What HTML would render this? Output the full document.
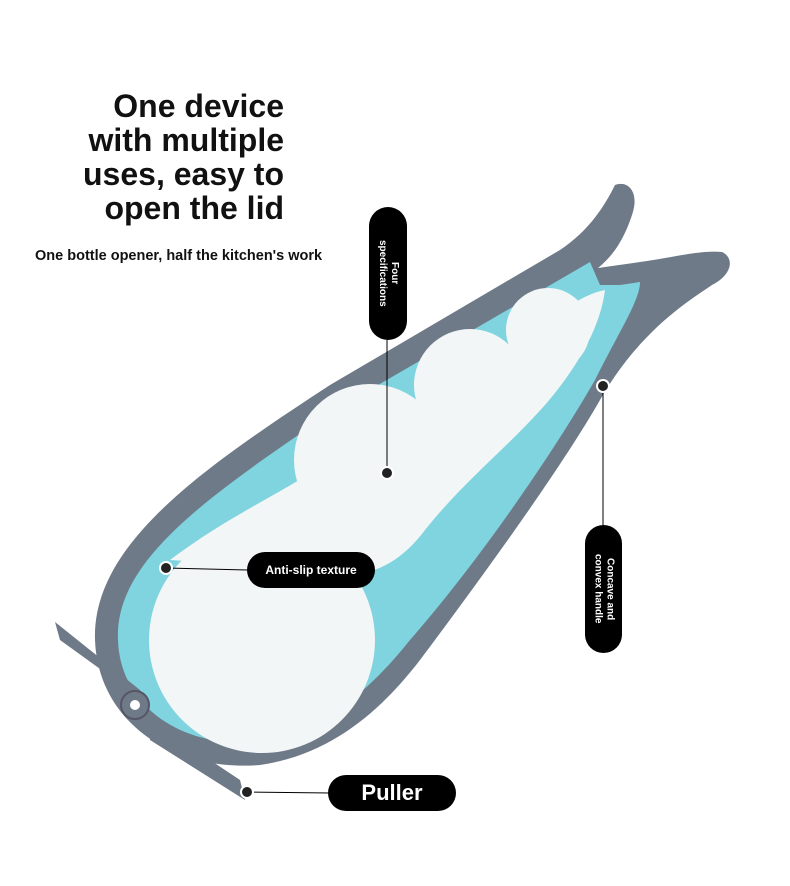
<!DOCTYPE html>
<html><head><meta charset="utf-8"><style>
html,body{margin:0;padding:0;background:#fff;}
body{width:790px;height:886px;position:relative;overflow:hidden;font-family:"Liberation Sans",sans-serif;}
.title{position:absolute;right:506px;top:89px;text-align:right;font-weight:bold;font-size:32px;line-height:34px;color:#111;}
.sub{position:absolute;left:35px;top:248px;font-size:14.5px;font-weight:bold;color:#111;}
.pill{position:absolute;background:#000;color:#fff;font-weight:bold;display:flex;align-items:center;justify-content:center;text-align:center;}
.v{writing-mode:vertical-rl;font-size:10px;line-height:12px;}
</style></head><body>
<svg width="790" height="886" style="position:absolute;left:0;top:0">
  <path d="M95 640 C92 545 200 470 330 385 L560 250 C590 230 605 205 615 185 C628 180 640 192 632 215 C622 245 610 258 598 268 L640 262 C670 258 700 250 722 252 C735 258 732 275 712 285 C690 300 640 330 600 400 C560 470 480 580 420 660 C380 712 330 755 260 765 C170 772 98 720 95 640 Z" fill="#6f7a88"/>
  <path d="M118 640 C114 560 210 495 335 410 L590 262 L600 285 L620 285 L640 282 C640 300 620 330 595 380 C555 450 480 560 410 640 C370 690 320 735 255 742 C180 748 120 705 118 640 Z" fill="#7fd4df"/>
  <circle cx="262" cy="640" r="113" fill="#f3f6f7"/>
  <path d="M170 560 C230 515 270 500 340 455 C420 410 480 385 530 340 C560 312 580 295 605 290 C600 330 575 370 545 405 C505 450 465 480 425 530 C395 570 360 580 330 570 Z" fill="#f3f6f7"/>
  <circle cx="370" cy="460" r="76" fill="#f3f6f7"/>
  <circle cx="470" cy="385" r="56" fill="#f3f6f7"/>
  <circle cx="548" cy="330" r="42" fill="#f3f6f7"/>
  <path d="M55 622 L140 690 L150 705 L60 640 Z" fill="#6f7a88"/>
  <path d="M150 720 L240 780 L245 800 L150 740 Z" fill="#6f7a88"/>
  <circle cx="135" cy="705" r="14" fill="#6f7a88" stroke="#556" stroke-width="2"/>
  <circle cx="135" cy="705" r="5" fill="#fff"/>
  <g stroke="#000" stroke-width="1">
    <line x1="387" y1="340" x2="387" y2="473"/>
    <line x1="166" y1="568" x2="247" y2="570"/>
    <line x1="603" y1="386" x2="603" y2="525"/>
    <line x1="247" y1="792" x2="330" y2="793"/>
  </g>
  <g fill="#222" stroke="#fff" stroke-width="2">
    <circle cx="387" cy="473" r="6"/><circle cx="166" cy="568" r="6"/>
    <circle cx="603" cy="386" r="6"/><circle cx="247" cy="792" r="6"/>
  </g>
</svg>
<div class="title">One device<br>with multiple<br>uses, easy to<br>open the lid</div>
<div class="sub">One bottle opener, half the kitchen's work</div>
<div class="pill v" style="left:369px;top:207px;width:38px;height:133px;border-radius:19px;">Four<br>specifications</div>
<div class="pill" style="left:247px;top:552px;width:128px;height:36px;border-radius:18px;font-size:12px;">Anti-slip texture</div>
<div class="pill v" style="left:585px;top:525px;width:37px;height:128px;border-radius:19px;">Concave and<br>convex handle</div>
<div class="pill" style="left:328px;top:775px;width:128px;height:36px;border-radius:18px;font-size:22px;">Puller</div>
</body></html>
